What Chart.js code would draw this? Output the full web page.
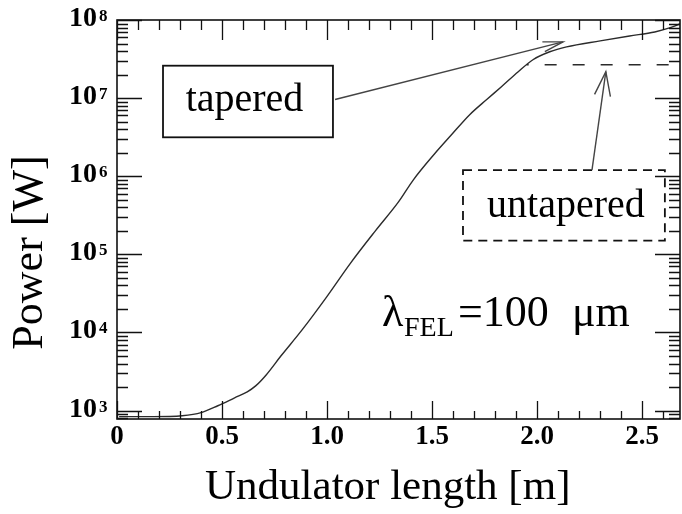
<!DOCTYPE html>
<html>
<head>
<meta charset="utf-8">
<script src="https://cdn.jsdelivr.net/npm/chart.js@4/dist/chart.umd.min.js"></script>
<style>
  html, body { margin: 0; padding: 0; background: #fff; }
  #wrap { width: 682px; height: 514px; }
</style>
</head>
<body>
<div id="wrap"><canvas id="c" width="682" height="514"></canvas></div>
<script>
// Undulator length along the beamline [m]
const lengthM = [0.01, 0.17, 0.31, 0.40, 0.48, 0.56, 0.62, 0.66, 0.71, 0.78,
                 0.88, 1.00, 1.11, 1.23, 1.34, 1.41, 1.51, 1.59, 1.68, 1.76,
                 1.83, 1.91, 1.98, 2.06, 2.14, 2.30, 2.44, 2.56, 2.63, 2.68];
// FEL power with a tapered undulator [W]
const taperedW = [836, 836, 859, 940, 1153, 1458, 1738, 2070, 2860, 4990,
                  10700, 29000, 76200, 200000, 469000, 893000, 1.91e6, 3.34e6, 6.18e6, 9.6e6,
                  1.40e7, 2.18e7, 3.10e7, 3.92e7, 4.53e7, 5.41e7, 6.25e7, 7.03e7, 7.91e7, 8.89e7];
// Untapered case: saturated power after it leaves the tapered curve
const untaperedM = [1.95, 2.68];
const untaperedW = [2.67e7, 2.67e7];
// Axis ticks
const xTicks = [0, 0.5, 1.0, 1.5, 2.0, 2.5];
const yDecades = [1e3, 1e4, 1e5, 1e6, 1e7, 1e8];

const SERIF = "'Liberation Serif', 'Times New Roman', 'DejaVu Serif', serif";

function toXY(xs, ys) { return xs.map((x, i) => ({ x: x, y: ys[i] })); }

// Inward tick marks on all four sides, frame, decade labels, boxes and arrows
const frameAndNotes = {
  id: 'frameAndNotes',
  afterDatasetsDraw(chart) {
    const ctx = chart.ctx;
    const a = chart.chartArea;
    const xs = chart.scales.x, ys = chart.scales.y;
    const X = v => xs.getPixelForValue(v);
    const Y = v => ys.getPixelForValue(v);
    ctx.save();
    ctx.strokeStyle = '#111';
    ctx.lineWidth = 1.3;

    // x ticks every 0.1 m, long at every 0.5 m
    for (let i = 0; i * 0.1 <= xs.max + 1e-9; i++) {
      const px = Math.round(X(i * 0.1)) + 0.5;
      const major = i % 5 === 0;
      ctx.beginPath();
      ctx.moveTo(px, a.bottom); ctx.lineTo(px, a.bottom - (major ? 18 : 8));
      ctx.moveTo(px, a.top); ctx.lineTo(px, a.top + (major ? 20 : 10));
      ctx.stroke();
    }
    // y ticks: decades long, 2..9 short
    for (let n = 2; n <= 8; n++) {
      for (let m = 1; m <= 9; m++) {
        const v = m * Math.pow(10, n);
        if (v < ys.min || v > ys.max) continue;
        const py = Math.round(Y(v)) + 0.5;
        const len = m === 1 ? 25 : 11;
        ctx.beginPath();
        ctx.moveTo(a.left, py); ctx.lineTo(a.left + len, py);
        ctx.moveTo(a.right, py); ctx.lineTo(a.right - len, py);
        ctx.stroke();
      }
    }
    // frame
    ctx.lineWidth = 1.6;
    ctx.strokeRect(a.left, a.top, a.right - a.left, a.bottom - a.top);

    // decade labels 10^n on the y scale ticks
    ctx.fillStyle = '#000';
    ys.ticks.forEach(t => {
      const c = Y(t.value) - 3;
      const n = Math.round(Math.log10(t.value));
      ctx.textBaseline = 'alphabetic';
      ctx.font = 'bold 28px ' + SERIF;
      ctx.textAlign = 'right';
      ctx.fillText('10', a.left - 20, c + 9);
      ctx.font = 'bold 17px ' + SERIF;
      ctx.textAlign = 'left';
      ctx.fillText(String(n), a.left - 18, c + 4);
    });

    // "tapered" box
    ctx.lineWidth = 1.8;
    ctx.strokeStyle = '#111';
    ctx.strokeRect(X(0.219), Y(2.60e7), X(1.028) - X(0.219), Y(3.15e6) - Y(2.60e7));
    ctx.font = '40px ' + SERIF;
    ctx.textAlign = 'center';
    ctx.textBaseline = 'alphabetic';
    ctx.fillText('tapered', X(0.607), Y(6.9e6));

    // "untapered" dashed box
    ctx.setLineDash([9, 6]);
    ctx.strokeRect(X(1.647), Y(1.20e6), X(2.608) - X(1.647), Y(1.50e5) - Y(1.20e6));
    ctx.setLineDash([]);
    ctx.fillText('untapered', X(2.137), Y(3.0e5));

    function arrow(x0, y0, x1, y1, len, half) {
      const ang = Math.atan2(y1 - y0, x1 - x0);
      ctx.beginPath();
      ctx.moveTo(x0, y0); ctx.lineTo(x1, y1);
      ctx.stroke();
      const bx = x1 - len * Math.cos(ang), by = y1 - len * Math.sin(ang);
      const nx = -Math.sin(ang) * half, ny = Math.cos(ang) * half;
      ctx.beginPath();
      ctx.moveTo(bx + nx, by + ny); ctx.lineTo(x1, y1); ctx.lineTo(bx - nx, by - ny);
      ctx.stroke();
    }
    ctx.strokeStyle = '#444';
    ctx.lineWidth = 1.4;
    arrow(X(1.038), Y(9.6e6), X(2.123), Y(5.25e7), 20, 5);
    arrow(X(2.261), Y(1.20e6), X(2.327), Y(2.18e7), 24, 8);

    // wavelength label
    ctx.fillStyle = '#000';
    ctx.textAlign = 'left';
    ctx.font = '44px ' + SERIF;
    ctx.fillText('\u03BB', X(1.261), Y(1.2e4));
    ctx.font = '28px ' + SERIF;
    ctx.fillText('FEL', X(1.366), Y(9.0e3));
    ctx.font = '44px ' + SERIF;
    ctx.fillText('=100', X(1.623), Y(1.2e4));
    ctx.fillText('\u03BCm', X(2.166), Y(1.2e4));
    ctx.restore();
  }
};

new Chart(document.getElementById('c'), {
  type: 'line',
  data: {
    datasets: [
      {
        label: 'tapered',
        data: toXY(lengthM, taperedW),
        borderColor: '#2b2b2b',
        borderWidth: 1.4,
        pointRadius: 0,
        cubicInterpolationMode: 'monotone',
        fill: false
      },
      {
        label: 'untapered',
        data: toXY(untaperedM, untaperedW),
        borderColor: '#2b2b2b',
        borderWidth: 1.6,
        borderDash: [12, 16],
        borderDashOffset: -18,
        pointRadius: 0,
        fill: false
      }
    ]
  },
  options: {
    responsive: false,
    animation: false,
    devicePixelRatio: 1,
    layout: { padding: { top: 20, right: 2, left: 0, bottom: 0 } },
    plugins: { legend: { display: false }, tooltip: { enabled: false } },
    scales: {
      x: {
        type: 'linear',
        min: 0,
        max: 2.68,
        grid: { display: false, drawTicks: false },
        border: { display: false },
        afterFit(s) { s.height = 95; },
        afterBuildTicks(s) { s.ticks = xTicks.map(v => ({ value: v })); },
        ticks: {
          autoSkip: false,
          maxRotation: 0,
          padding: 2,
          color: '#000',
          font: { family: SERIF, size: 27, weight: 'bold' },
          callback: v => (v === 0 ? '0' : v.toFixed(1))
        },
        title: {
          display: true,
          text: 'Undulator length [m]  ',
          color: '#000',
          font: { family: SERIF, size: 43 },
          padding: 0
        }
      },
      y: {
        type: 'logarithmic',
        min: 780,
        max: 1e8,
        grid: { display: false, drawTicks: false },
        border: { display: false },
        afterFit(s) { s.width = 117; },
        afterBuildTicks(s) { s.ticks = yDecades.map(v => ({ value: v })); },
        ticks: { display: false },
        title: {
          display: true,
          text: 'Power [W]\u2002\u2002\u2002',
          color: '#000',
          font: { family: SERIF, size: 44 },
          padding: { top: 4, bottom: 0 }
        }
      }
    }
  },
  plugins: [frameAndNotes]
});
</script>
</body>
</html>
